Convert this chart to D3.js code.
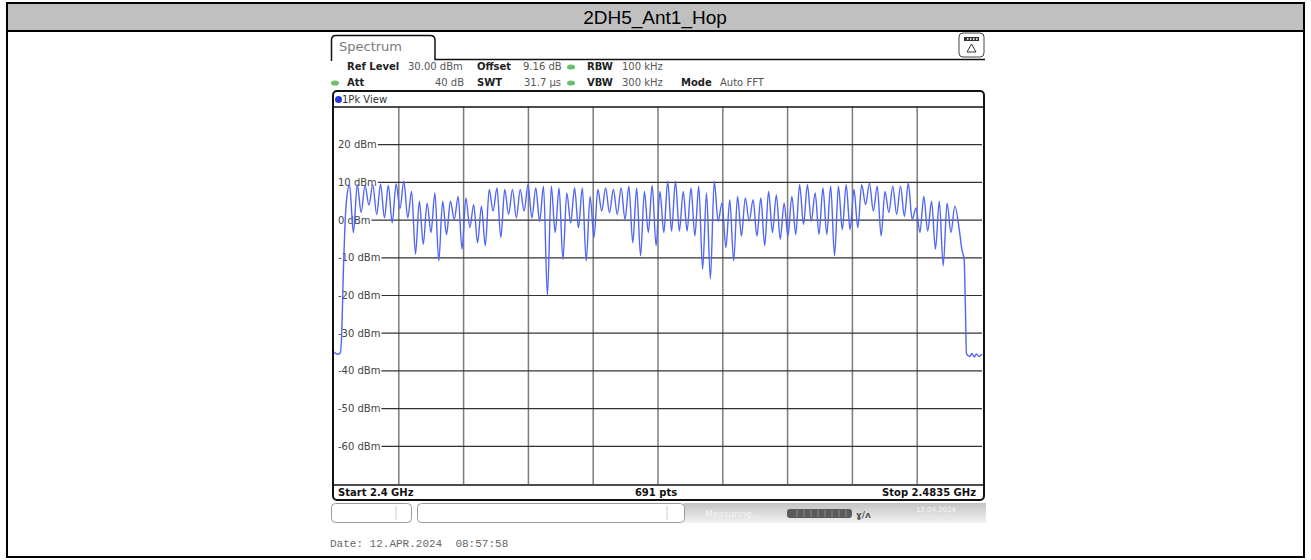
<!DOCTYPE html>
<html>
<head>
<meta charset="utf-8">
<script src="https://cdn.jsdelivr.net/npm/d3@7"></script>
<style>
  body { margin: 0; background: #fff; }
  svg text { font-family: "DejaVu Sans", sans-serif; }
</style>
</head>
<body>
<div class="container"></div>
<script>
const TITLE = "2DH5_Ant1_Hop";

const START_MHZ = 2400;
const STOP_MHZ = 2483.5;
const REF_LEVEL = 30;
const BOTTOM_LEVEL = -70;
const Y_TICKS = [20, 10, 0, -10, -20, -30, -40, -50, -60];

// one hump per BT channel, 2402 .. 2480 MHz
const FIRST_CHANNEL_MHZ = 2402;
const channelPeaks = [
  9.4, 9.4, 9.2, 9.4, 9.5, 9.2, 9.6, 10.3, 7.6, 5.0,
  4.5, 7.2, 5.0, 5.0, 6.3, 5.9, 4.1, 3.7, 8.1, 8.5,
  8.1, 8.1, 8.1, 9.4, 8.5, 9.0, 9.0, 8.5, 7.2, 8.5,
  8.5, 6.3, 8.1, 8.5, 8.1, 8.5, 9.0, 8.5, 7.6, 9.2,
  7.6, 10.3, 10.3, 7.6, 8.5, 9.0, 7.2, 10.3, 4.5, 5.4,
  6.3, 5.9, 5.4, 5.9, 7.6, 6.7, 4.5, 6.3, 9.4, 9.4,
  7.2, 8.5, 9.0, 9.0, 9.4, 8.1, 9.4, 9.8, 9.0, 7.6,
  9.0, 9.0, 9.8, 3.2, 6.3, 5.0, 5.0, 4.5, 3.7
];
// minimum between channel k and k+1
const channelDips = [
  -3.3, 2.0, 4.0, 1.5, 0.6, -0.7, 3.0, 0.6, -9.0, -6.4,
  -3.3, -10.8, -3.8, 0.2, -7.7, -2.0, -6.0, -6.8, 2.4, -4.6,
  1.5, 0.6, 2.4, 0.6, -0.3, -20.0, -3.3, -10.4, -0.7, -2.0,
  -10.8, -4.6, 2.4, 2.0, 1.5, 0.2, -6.0, -9.5, -3.3, -6.8,
  -3.3, -2.9, -2.9, -2.9, -4.2, -13.0, -15.6, -0.3, -7.3, -10.8,
  -4.2, -0.3, -4.2, -6.8, -3.3, -5.1, -4.2, -3.8, -1.1, -0.3,
  -3.8, -3.8, -9.5, -2.5, -2.5, -2.0, 4.1, 2.4, -4.2, 2.0,
  1.5, 1.0, 0.2, -3.3, -2.9, -7.7, -12.1, -3.3
];
const riseMHz = [2400.0, 2400.4, 2400.8, 2401.0, 2401.2, 2401.4, 2401.7];
const riseDbm = [-35.0, -35.6, -35.3, -30.0, -14.0, -2.0, 7.0];
const fallMHz = [2480.6, 2480.9, 2481.2, 2481.35, 2481.5, 2481.9, 2482.2, 2482.5, 2482.8, 2483.1, 2483.5];
const fallDbm = [-3.0, -7.7, -10.5, -22.0, -35.5, -36.2, -35.4, -36.3, -35.5, -36.2, -35.6];

const WIDTH = 1311;
const HEIGHT = 560;
const PLOT_LEFT = 334;
const PLOT_RIGHT = 982;
const PLOT_TOP = 107;
const PLOT_BOTTOM = 484;

var translate = function(x, y){
  return "translate(" + x + "," + y + ")";
};

var _xScale = d3.scaleLinear()
  .domain([START_MHZ, STOP_MHZ])
  .range([PLOT_LEFT, PLOT_RIGHT]);

var _yScale = d3.scaleLinear()
  .domain([BOTTOM_LEVEL, REF_LEVEL])
  .range([PLOT_BOTTOM, PLOT_TOP]);

var _line = d3.line()
  .x(function(d){ return _xScale(d[0]); })
  .y(function(d){ return _yScale(d[1]); })
  .curve(d3.curveMonotoneX);

var buildTrace = function(){
  var pts = [];
  riseMHz.forEach(function(f, i){ pts.push([f, riseDbm[i]]); });
  channelPeaks.forEach(function(v, k){
    pts.push([FIRST_CHANNEL_MHZ + k, v]);
    if (k < channelDips.length) pts.push([FIRST_CHANNEL_MHZ + k + 0.5, channelDips[k]]);
  });
  fallMHz.forEach(function(f, i){ pts.push([f, fallDbm[i]]); });
  return pts;
};

var addText = function(g, x, y, txt, opts){
  opts = opts || {};
  return g.append('text')
    .attr('x', x).attr('y', y)
    .attr('font-size', opts.size || 10)
    .attr('font-weight', opts.bold ? 'bold' : 'normal')
    .attr('fill', opts.fill || '#222')
    .attr('text-anchor', opts.anchor || 'start')
    .text(txt);
};

var generateChart = function(){
  var svg = d3.select('.container').append('svg')
    .attr('width', WIDTH)
    .attr('height', HEIGHT);

  var defs = svg.append('defs');
  var grad = defs.append('linearGradient').attr('id', 'statusGrad')
    .attr('x1', 0).attr('y1', 0).attr('x2', 0).attr('y2', 1);
  grad.append('stop').attr('offset', '0%').attr('stop-color', '#c4c4c4');
  grad.append('stop').attr('offset', '100%').attr('stop-color', '#f2f2f2');

  // outer frame + title bar
  svg.append('rect').attr('x', 7).attr('y', 3).attr('width', 1297).attr('height', 28)
    .attr('fill', '#c0c0c0');
  svg.append('rect').attr('x', 7).attr('y', 3).attr('width', 1297).attr('height', 554)
    .attr('fill', 'none').attr('stroke', '#000').attr('stroke-width', 2);
  svg.append('line').attr('x1', 7).attr('x2', 1304).attr('y1', 31).attr('y2', 31)
    .attr('stroke', '#000').attr('stroke-width', 2);
  svg.append('text').attr('x', 655).attr('y', 24)
    .attr('text-anchor', 'middle')
    .style('font-family', '"Liberation Sans", Arial, sans-serif')
    .attr('font-size', 19).attr('fill', '#000')
    .text(TITLE);

  // Spectrum tab
  svg.append('path')
    .attr('d', 'M331.5,61 V40 Q331.5,35.5 336,35.5 H430 Q435,35.5 435,40 V59.5 H985')
    .attr('fill', 'none').attr('stroke', '#111').attr('stroke-width', 1.5);
  addText(svg, 339, 51, 'Spectrum', {size: 13, fill: '#7a7a7a'});

  // top right icon
  var icon = svg.append('g').attr('transform', translate(959, 33));
  icon.append('rect').attr('width', 25).attr('height', 24).attr('rx', 4)
    .attr('fill', '#fff').attr('stroke', '#444').attr('stroke-width', 1);
  icon.append('rect').attr('x', 5).attr('y', 4).attr('width', 15).attr('height', 4)
    .attr('fill', '#333');
  [8, 11, 14, 17].forEach(function(px){
    icon.append('rect').attr('x', px).attr('y', 5).attr('width', 1.5).attr('height', 2).attr('fill', '#ddd');
  });
  icon.append('path').attr('d', 'M12.5,11 L17,19 H8 Z')
    .attr('fill', 'none').attr('stroke', '#333').attr('stroke-width', 1);

  // settings rows
  var info = svg.append('g');
  addText(info, 347, 70, 'Ref Level', {bold: true});
  addText(info, 408, 70, '30.00 dBm', {fill: '#555'});
  addText(info, 477, 70, 'Offset', {bold: true});
  addText(info, 523, 70, '9.16 dB', {fill: '#555'});
  addText(info, 587, 70, 'RBW', {bold: true});
  addText(info, 622, 70, '100 kHz', {fill: '#555'});
  addText(info, 347, 86, 'Att', {bold: true});
  addText(info, 464, 86, '40 dB', {fill: '#555', anchor: 'end'});
  addText(info, 477, 86, 'SWT', {bold: true});
  addText(info, 524, 86, '31.7 µs', {fill: '#555'});
  addText(info, 587, 86, 'VBW', {bold: true});
  addText(info, 622, 86, '300 kHz', {fill: '#555'});
  addText(info, 681, 86, 'Mode', {bold: true});
  addText(info, 720, 86, 'Auto FFT', {fill: '#555'});
  [[571, 67], [571, 83], [335, 83]].forEach(function(p){
    info.append('ellipse').attr('cx', p[0]).attr('cy', p[1]).attr('rx', 4).attr('ry', 2.6)
      .attr('fill', '#6abf6a');
  });

  // plot frame
  svg.append('rect').attr('x', 333).attr('y', 91).attr('width', 651).attr('height', 409)
    .attr('rx', 4).attr('fill', '#fff').attr('stroke', '#111').attr('stroke-width', 2);
  svg.append('circle').attr('cx', 338.5).attr('cy', 99.5).attr('r', 3.5).attr('fill', '#2636d8');
  addText(svg, 342, 103, '1Pk View', {fill: '#333'});

  var g = svg.append('g').classed('line_chart', true);

  // vertical grid
  var xGrid = d3.range(1, 10).map(function(i){ return START_MHZ + i * (STOP_MHZ - START_MHZ) / 10; });
  g.selectAll('line.vgrid').data(xGrid).enter().append('line')
    .attr('class', 'vgrid')
    .attr('x1', function(d){ return _xScale(d); }).attr('x2', function(d){ return _xScale(d); })
    .attr('y1', PLOT_TOP).attr('y2', PLOT_BOTTOM)
    .attr('stroke', '#7c7c7c').attr('stroke-width', 1.5);

  // horizontal grid with dBm labels
  Y_TICKS.forEach(function(t){
    var yy = _yScale(t);
    var lbl = addText(g, 338, yy + 3.5, t + ' dBm', {fill: '#444'});
    var w = lbl.node().getComputedTextLength();
    g.append('line').attr('x1', 338 + w + 1).attr('x2', PLOT_RIGHT)
      .attr('y1', yy).attr('y2', yy)
      .attr('stroke', '#333').attr('stroke-width', 1.2);
  });

  // frame lines of the grid
  g.append('line').attr('x1', 333).attr('x2', 984).attr('y1', PLOT_TOP).attr('y2', PLOT_TOP)
    .attr('stroke', '#111').attr('stroke-width', 1.5);
  g.append('line').attr('x1', 333).attr('x2', 984).attr('y1', PLOT_BOTTOM + 1).attr('y2', PLOT_BOTTOM + 1)
    .attr('stroke', '#111').attr('stroke-width', 1.5);

  // trace
  g.append('path')
    .classed('line', true)
    .datum(buildTrace())
    .attr('d', _line)
    .attr('fill', 'none')
    .attr('stroke', '#5066f4')
    .attr('stroke-width', 1.4);

  // bottom row
  addText(svg, 338, 496, 'Start 2.4 GHz', {bold: true, fill: '#111'});
  addText(svg, 656, 496, '691 pts', {bold: true, fill: '#111', anchor: 'middle'});
  addText(svg, 976, 496, 'Stop 2.4835 GHz', {bold: true, fill: '#111', anchor: 'end'});

  // status bar
  var sb = svg.append('g');
  sb.append('rect').attr('x', 684).attr('y', 503).attr('width', 302).attr('height', 20)
    .attr('fill', 'url(#statusGrad)');
  sb.append('rect').attr('x', 331.5).attr('y', 503.5).attr('width', 80).attr('height', 19)
    .attr('rx', 4).attr('fill', '#fff').attr('stroke', '#999');
  sb.append('line').attr('x1', 396).attr('x2', 396).attr('y1', 506).attr('y2', 520).attr('stroke', '#ccc');
  sb.append('rect').attr('x', 417.5).attr('y', 503.5).attr('width', 267).attr('height', 19)
    .attr('rx', 4).attr('fill', '#fff').attr('stroke', '#999');
  sb.append('line').attr('x1', 667).attr('x2', 667).attr('y1', 506).attr('y2', 520).attr('stroke', '#ccc');
  addText(sb, 705, 517, 'Measuring...', {fill: '#f4f4f4', size: 9});
  sb.append('rect').attr('x', 787).attr('y', 509).attr('width', 65).attr('height', 9).attr('rx', 3)
    .attr('fill', '#5a5a5a');
  d3.range(1, 9).forEach(function(i){
    sb.append('line').attr('x1', 790 + i * 7).attr('x2', 790 + i * 7).attr('y1', 510).attr('y2', 517)
      .attr('stroke', '#8a8a8a');
  });
  addText(sb, 856, 518, 'ɣ/ʌ', {fill: '#555', size: 9, bold: true});
  addText(sb, 936, 512, '12.04.2024', {fill: '#f6f6f6', size: 7, anchor: 'middle'});
  addText(sb, 936, 520, '08:57:58', {fill: '#e6e6e6', size: 7, anchor: 'middle'});

  // date stamp
  svg.append('text').attr('x', 330).attr('y', 547)
    .style('font-family', '"Liberation Mono", "DejaVu Sans Mono", monospace')
    .style('white-space', 'pre')
    .attr('font-size', 11).attr('fill', '#666')
    .text('Date: 12.APR.2024  08:57:58');
};

window.onload = generateChart;
</script>
</body>
</html>
